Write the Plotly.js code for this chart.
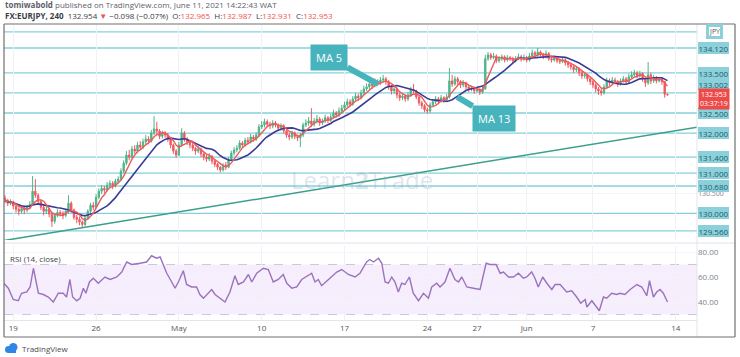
<!DOCTYPE html>
<html>
<head>
<meta charset="utf-8">
<script src="https://cdn.plot.ly/plotly-3.0.1.min.js"></script>
<style>html,body{margin:0;padding:0;background:#fff;}#chart{width:740px;height:357px;}</style>
</head>
<body>
<div id="chart"></div>
<script>
// ---- OHLC data (4H bars, EURJPY, Apr 16 - Jun 11 2021) ----
const open = [
130.38,130.32,130.25,130.28,130.18,130.10,130.05,130.12,130.08,130.15,
130.22,130.55,130.45,130.30,130.15,130.05,130.10,129.98,129.80,129.95,
130.02,130.00,129.95,130.05,130.25,130.08,129.90,129.85,129.78,129.72,
129.88,130.05,130.20,130.15,130.40,130.55,130.62,130.58,130.70,130.75,
130.68,130.80,130.85,131.05,131.25,131.45,131.40,131.60,131.55,131.70,
131.65,131.78,131.85,131.80,132.00,132.10,132.05,131.92,132.00,131.95,
131.85,131.70,131.55,131.45,131.70,132.00,131.85,131.78,131.70,131.62,
131.55,131.60,131.48,131.40,131.35,131.42,131.30,131.22,131.15,131.08,
131.20,131.15,131.35,131.50,131.58,131.62,131.75,131.70,131.82,131.78,
131.90,131.85,131.95,132.15,132.20,132.28,132.22,132.18,132.25,132.20,
132.12,132.18,132.05,131.95,131.90,132.00,131.92,131.88,131.95,132.20,
132.25,132.30,132.22,132.30,132.35,132.25,132.30,132.38,132.32,132.40,
132.50,132.45,132.55,132.62,132.70,132.78,132.72,132.85,132.92,132.88,
133.00,133.10,133.15,133.22,133.18,133.28,133.25,133.32,133.35,133.28,
133.15,133.05,133.10,132.95,132.88,132.92,132.85,132.95,133.08,133.05,
132.90,132.75,132.68,132.58,132.55,132.70,132.78,132.85,132.80,132.88,
132.82,132.90,133.30,133.22,133.35,133.28,133.20,133.25,133.15,133.10,
133.12,133.05,133.08,133.02,133.10,133.85,133.95,133.88,133.92,133.80,
133.85,133.90,133.82,133.88,133.85,133.80,133.86,133.90,133.84,133.88,
133.82,133.92,134.00,133.95,134.02,133.96,133.90,133.98,133.85,133.82,
133.88,133.80,133.78,133.82,133.75,133.70,133.65,133.58,133.60,133.50,
133.42,133.45,133.35,133.28,133.20,133.10,133.05,133.00,133.15,133.30,
133.25,133.32,133.28,133.22,133.30,133.35,133.28,133.40,133.45,133.50,
133.42,133.48,133.35,133.25,133.45,133.30,133.38,133.30,133.35,133.28,
132.965];
const high = [
130.45,130.36,130.35,130.31,130.22,130.15,130.18,130.16,130.20,130.30,
130.93,130.85,130.50,130.34,130.20,130.18,130.14,130.02,130.00,130.10,
130.08,130.05,130.12,130.45,130.30,130.12,129.96,129.92,129.82,129.94,
130.10,130.26,130.28,130.48,130.62,130.70,130.68,130.78,130.82,130.80,
130.86,130.92,131.12,131.32,131.55,131.58,131.68,131.70,131.78,131.80,
131.86,131.95,131.92,132.08,132.42,132.28,132.10,132.06,132.05,132.00,
131.90,131.74,131.60,131.78,132.12,132.05,131.90,131.82,131.75,131.66,
131.68,131.64,131.52,131.46,131.50,131.45,131.34,131.26,131.18,131.25,
131.28,131.40,131.56,131.65,131.70,131.82,131.80,131.88,131.90,131.98,
131.95,132.02,132.22,132.30,132.36,132.34,132.28,132.32,132.30,132.24,
132.24,132.22,132.08,132.00,132.06,132.04,131.96,132.00,132.26,132.34,
132.40,132.62,132.38,132.45,132.40,132.36,132.46,132.42,132.48,132.58,
132.55,132.64,132.70,132.78,132.86,132.84,132.92,133.00,132.98,133.08,
133.18,133.24,133.30,133.28,133.36,133.34,133.40,133.45,133.40,133.32,
133.20,133.16,133.14,133.00,133.00,132.96,133.02,133.15,133.22,133.08,
132.94,132.80,132.72,132.64,132.76,132.85,132.92,132.90,132.95,132.92,
132.98,133.62,133.45,133.42,133.40,133.32,133.32,133.28,133.20,133.18,
133.16,133.14,133.12,133.16,133.95,134.02,134.00,134.00,133.96,133.92,
133.96,133.94,133.94,133.92,133.90,133.92,133.98,133.95,133.96,133.92,
134.00,134.08,134.05,134.12,134.06,134.00,134.06,134.02,133.90,133.94,
133.92,133.86,133.88,133.86,133.80,133.75,133.70,133.66,133.64,133.55,
133.52,133.48,133.40,133.32,133.24,133.15,133.12,133.22,133.38,133.36,
133.40,133.38,133.32,133.36,133.42,133.40,133.48,133.54,133.58,133.55,
133.55,133.52,133.38,133.77,133.50,133.45,133.42,133.40,133.38,133.30,
132.987];
const low = [
130.25,130.18,130.20,130.10,130.02,129.95,130.00,129.98,130.03,130.10,
130.18,130.38,130.22,130.08,129.95,129.98,129.90,129.66,129.74,129.90,
129.92,129.85,129.90,130.00,130.02,129.84,129.75,129.70,129.66,129.68,
129.84,130.00,130.08,130.12,130.35,130.48,130.50,130.54,130.64,130.60,
130.64,130.74,130.80,131.00,131.20,131.32,131.35,131.48,131.50,131.58,
131.60,131.72,131.72,131.76,131.95,131.98,131.85,131.86,131.88,131.78,
131.62,131.48,131.38,131.42,131.66,131.78,131.70,131.62,131.55,131.46,
131.50,131.40,131.32,131.28,131.30,131.22,131.15,131.08,131.02,131.04,
131.08,131.12,131.30,131.44,131.52,131.58,131.64,131.66,131.72,131.74,
131.78,131.80,131.90,132.10,132.14,132.15,132.10,132.12,132.14,132.05,
132.06,131.98,131.88,131.82,131.85,131.85,131.80,131.65,131.90,132.15,
132.18,132.15,132.16,132.24,132.18,132.20,132.25,132.24,132.28,132.36,
132.38,132.40,132.50,132.56,132.64,132.65,132.68,132.80,132.80,132.84,
132.95,133.05,133.10,133.10,133.14,133.18,133.20,133.26,133.20,133.08,
132.96,132.98,132.86,132.80,132.82,132.78,132.80,132.90,132.98,132.84,
132.68,132.60,132.52,132.48,132.50,132.65,132.72,132.72,132.76,132.75,
132.78,132.86,133.15,133.18,133.20,133.12,133.14,133.08,133.02,133.04,
132.98,133.00,132.95,132.98,133.08,133.80,133.82,133.84,133.74,133.75,
133.80,133.76,133.78,133.80,133.74,133.76,133.82,133.78,133.80,133.76,
133.78,133.88,133.88,133.90,133.90,133.84,133.86,133.80,133.76,133.78,
133.74,133.72,133.74,133.68,133.62,133.58,133.50,133.52,133.42,133.35,
133.36,133.28,133.20,133.12,133.02,132.95,132.93,132.96,133.10,133.18,
133.20,133.22,133.15,133.18,133.26,133.22,133.24,133.36,133.40,133.36,
133.38,133.28,133.15,133.20,133.22,133.25,133.24,133.26,133.20,132.88,
132.931];
const close = [
130.32,130.25,130.28,130.18,130.10,130.05,130.12,130.08,130.15,130.22,
130.55,130.45,130.30,130.15,130.05,130.10,129.98,129.80,129.95,130.02,
130.00,129.95,130.05,130.25,130.08,129.90,129.85,129.78,129.72,129.88,
130.05,130.20,130.15,130.40,130.55,130.62,130.58,130.70,130.75,130.68,
130.80,130.85,131.05,131.25,131.45,131.40,131.60,131.55,131.70,131.65,
131.78,131.85,131.80,132.00,132.10,132.05,131.92,132.00,131.95,131.85,
131.70,131.55,131.45,131.70,132.00,131.85,131.78,131.70,131.62,131.55,
131.60,131.48,131.40,131.35,131.42,131.30,131.22,131.15,131.08,131.20,
131.15,131.35,131.50,131.58,131.62,131.75,131.70,131.82,131.78,131.90,
131.85,131.95,132.15,132.20,132.28,132.22,132.18,132.25,132.20,132.12,
132.18,132.05,131.95,131.90,132.00,131.92,131.88,131.95,132.20,132.25,
132.30,132.22,132.30,132.35,132.25,132.30,132.38,132.32,132.40,132.50,
132.45,132.55,132.62,132.70,132.78,132.72,132.85,132.92,132.88,133.00,
133.10,133.15,133.22,133.18,133.28,133.25,133.32,133.35,133.28,133.15,
133.05,133.10,132.95,132.88,132.92,132.85,132.95,133.08,133.05,132.90,
132.75,132.68,132.58,132.55,132.70,132.78,132.85,132.80,132.88,132.82,
132.90,133.30,133.22,133.35,133.28,133.20,133.25,133.15,133.10,133.12,
133.05,133.08,133.02,133.10,133.85,133.95,133.88,133.92,133.80,133.85,
133.90,133.82,133.88,133.85,133.80,133.86,133.90,133.84,133.88,133.82,
133.92,134.00,133.95,134.02,133.96,133.90,133.98,133.85,133.82,133.88,
133.80,133.78,133.82,133.75,133.70,133.65,133.58,133.60,133.50,133.42,
133.45,133.35,133.28,133.20,133.10,133.05,133.00,133.15,133.30,133.25,
133.32,133.28,133.22,133.30,133.35,133.28,133.40,133.45,133.50,133.42,
133.48,133.35,133.25,133.45,133.30,133.38,133.30,133.35,133.28,132.965,
132.953];

// ---- RSI (14, close): bar position / value ----
const rsiBar = [
-0.4,1.2,3.0,4.8,6.0,7.9,9.1,10.3,12.1,13.9,
15.7,17.5,19.3,21.1,22.3,23.5,24.5,26.0,27.2,28.4,
29.3,30.6,32.0,33.8,36.2,38.1,40.5,42.3,44.1,45.9,
48.9,51.3,53.1,54.9,56.2,57.4,58.6,60.4,61.6,62.8,
64.6,65.8,67.6,69.4,70.6,71.9,73.1,74.9,76.1,77.9,
79.7,81.5,83.3,84.5,86.4,88.2,89.4,91.2,93.6,95.4,
97.2,99.0,100.8,102.1,103.9,105.7,107.5,111.1,112.3,113.5,
114.7,117.2,120.2,122.0,124.4,126.8,128.6,131.0,132.2,
133.5,135.3,136.5,137.7,138.9,140.1,141.3,142.5,143.7,144.9,
146.5,147.9,149.8,151.6,153.4,154.6,156.4,157.6,159.4,161.2,
163.0,164.3,165.5,167.3,169.7,172.1,174.3,175.7,177.9,179.4,
180.6,182.4,184.2,186.0,187.8,189.0,190.8,192.0,193.2,194.8,
196.3,198.1,199.3,201.1,203.5,205.3,207.1,208.6,210.2,210.8,
212.6,214.4,215.3,216.8,218.0,219.8,221.6,222.8,224.6,226.5,
228.9,230.7,232.5,233.5,234.9,236.1,237.3,238.5,240.0];
const rsiVal = [
55,51,42,41,47,48,52,67,47,46,
44,40,47,47,44,58,44,41,43,51,
47,56,59,55,60,58,60,64,72,70,
71,72,77,75,76,70,63,56,51,56,
65,54,52,52,46,43,46,50,46,43,
40,48,61,54,56,62,56,63,67,66,
56,58,62,55,51,52,58,63,56,58,
53,58,64,66,62,60,63,72,74,
72,75,71,56,55,60,56,48,55,54,
60,47,41,47,43,52,55,52,56,67,
58,56,60,52,51,50,71,70,70,63,
64,60,60,63,59,60,64,59,52,60,
55,50,54,54,48,49,44,39,42,36,
41,35,33,44,43,47,46,47,46,50,
54,52,45,57,44,48,50,47,40];

// ---- axis ticks ----
const tickBars = [3,33,63,93,123,153,171,189,213,243];
const tickLabels = ['19','26','May','10','17','24','27','Jun','7','14'];
const priceTicks = [130.5];
const rsiTicks = [40,60,80];

// ---- drawings ----
const levels = [134.52,134.12,133.5,133.002,132.5,132.0,131.4,131.0,130.68,130.0,129.56];
const levelLabels = ['JPY','134.120','133.500','133.002','132.500','132.000','131.400','131.000','130.680','130.000','129.560'];
const trendBar = [-0.4, 251];
const trendPrice = [129.32, 132.15];
const lastPrice = 132.953;
const countdown = '03:37:19';
const maFast = 5, maSlow = 13;

// ---- build ----
const bars = close.map((_, i) => i);
function sma(arr, n) {
  return arr.map((_, i) => {
    const s = Math.max(0, i - n + 1);
    let t = 0;
    for (let k = s; k <= i; k++) t += arr[k];
    return t / (i - s + 1);
  });
}
const ma5 = sma(close, maFast);
const ma13 = sma(close, maSlow);

const PXL = 4, PXR = 697, PYT = 24, PYB = 320;
const px = v => (v - PXL) / (PXR - PXL);
const py = v => (PYB - v) / (PYB - PYT);

const traces = [
  {type:'scatter', mode:'lines', x:trendBar, y:trendPrice, xaxis:'x', yaxis:'y',
   line:{color:'#3c9f8c', width:1.5}, hoverinfo:'skip'},
  {type:'candlestick', x:bars, open:open, high:high, low:low, close:close, xaxis:'x', yaxis:'y',
   increasing:{line:{color:'#4fb48a', width:1}, fillcolor:'#4fb48a'},
   decreasing:{line:{color:'#ee5a60', width:1}, fillcolor:'#ee5a60'},
   whiskerwidth:0, hoverinfo:'skip'},
  {type:'scatter', mode:'lines', x:bars, y:ma13, xaxis:'x', yaxis:'y',
   line:{color:'#3b3a97', width:1.6}, hoverinfo:'skip'},
  {type:'scatter', mode:'lines', x:bars, y:ma5, xaxis:'x', yaxis:'y',
   line:{color:'#ee5a5a', width:1.4}, hoverinfo:'skip'},
  {type:'scatter', mode:'lines', x:rsiBar, y:rsiVal, xaxis:'x', yaxis:'y2',
   line:{color:'#9a72bd', width:1.4}, hoverinfo:'skip'}
];

const shapes = [];
levels.forEach(l => shapes.push({type:'line', xref:'paper', yref:'y', x0:0, x1:1, y0:l, y1:l,
  line:{color:'#86d0da', width:1.3}, layer:'below'}));
shapes.push({type:'rect', xref:'paper', yref:'y2', x0:0, x1:1, y0:30, y1:70,
  fillcolor:'rgba(186,120,230,0.13)', line:{width:0}, layer:'below'});
[30,70].forEach(v => shapes.push({type:'line', xref:'paper', yref:'y2', x0:0, x1:1, y0:v, y1:v,
  line:{color:'rgba(150,140,170,0.45)', width:1, dash:'dash'}, layer:'below'}));
// pane separator, price scale separator, outer frame
shapes.push({type:'line', xref:'paper', yref:'paper', x0:0, x1:px(735), y0:py(243), y1:py(243), line:{color:'#dfe2e8', width:1}});
shapes.push({type:'line', xref:'paper', yref:'paper', x0:1, x1:1, y0:py(337), y1:1, line:{color:'#e3e5ea', width:1}});
const frame = {color:'#707070', width:1.2};
shapes.push({type:'line', xref:'paper', yref:'paper', x0:0, x1:0, y0:py(337), y1:1, line:frame});
shapes.push({type:'line', xref:'paper', yref:'paper', x0:px(735), x1:px(735), y0:py(337), y1:1, line:frame});
shapes.push({type:'line', xref:'paper', yref:'paper', x0:0, x1:px(735), y0:1, y1:1, line:frame});
shapes.push({type:'line', xref:'paper', yref:'paper', x0:0, x1:px(735), y0:py(337), y1:py(337), line:frame});
// TradingView cloud logo
const logo = {xref:'paper', yref:'paper', fillcolor:'#2f86e6', line:{width:0}};
shapes.push(Object.assign({type:'circle', x0:px(5), x1:px(12), y0:py(353), y1:py(346)}, logo));
shapes.push(Object.assign({type:'circle', x0:px(9), x1:px(17.5), y0:py(351.5), y1:py(343)}, logo));
shapes.push(Object.assign({type:'rect', x0:px(8.5), x1:px(16), y0:py(353), y1:py(348)}, logo));

const red = '#ef5350';
const annotations = [
  {xref:'paper', yref:'paper', x:px(3), y:py(5), xanchor:'left', yanchor:'middle', showarrow:false,
   text:'<b>tomiwabold</b> published on TradingView.com, June 11, 2021 14:22:43 WAT',
   font:{size:8, color:'#5d606b'}},
  {xref:'paper', yref:'paper', x:px(3), y:py(16), xanchor:'left', yanchor:'middle', showarrow:false,
   text:'<b>FX:EURJPY, 240</b>  132.954 <span style="color:'+red+'">▼</span> −0.098 (−0.07%)  O:<span style="color:'+red+'">132.965</span>  H:<span style="color:'+red+'">132.987</span>  L:<span style="color:'+red+'">132.931</span>  C:<span style="color:'+red+'">132.953</span>',
   font:{size:8, color:'#3a3d46'}},
  {xref:'paper', yref:'paper', x:px(8), y:py(258), xanchor:'left', yanchor:'middle', showarrow:false,
   text:'RSI (14, close)', font:{size:8, color:'#444'}},
  {xref:'x', yref:'y', x:129.3, y:130.83, showarrow:false, text:'Learn<b>2</b>Trade',
   font:{size:24, color:'rgba(140,165,190,0.28)'}},
  {xref:'x', yref:'y', x:135.1, y:133.22, ax:-49, ay:-27, showarrow:true, arrowhead:0, arrowwidth:6,
   arrowcolor:'#47b3bd', standoff:0, text:'MA 5', font:{size:11, color:'#fff'}, bgcolor:'#47b3bd', borderpad:5},
  {xref:'x', yref:'y', x:163.8, y:132.90, ax:37, ay:22, showarrow:true, arrowhead:0, arrowwidth:6,
   arrowcolor:'#47b3bd', standoff:0, text:'MA 13', font:{size:11, color:'#fff'}, bgcolor:'#47b3bd', borderpad:5},
  {xref:'paper', yref:'paper', x:px(20), y:py(348), xanchor:'left', yanchor:'middle', showarrow:false, text:'TradingView',
   font:{size:8, color:'#4a4d56'}}
];
levels.forEach((l, i) => {
  const isCcy = levelLabels[i] === 'JPY';
  annotations.push({xref:'paper', yref:'y', x:px(isCcy ? 714 : 698), y:l,
    xanchor:isCcy ? 'center' : 'left', yanchor:'middle',
    yshift: levelLabels[i] === '133.002' ? 9 : 0,
    showarrow:false, text:levelLabels[i],
    font:{size:isCcy ? 7 : 8, color:isCcy ? '#555' : '#225e69'},
    bgcolor:isCcy ? '#ffffff' : '#8bd0da',
    bordercolor:'#8bd0da', borderwidth:isCcy ? 3 : 0, borderpad:isCcy ? 0 : 0.5});
});
annotations.push({xref:'paper', yref:'y', x:px(698), y:lastPrice, xanchor:'left', yanchor:'middle', yshift:-4,
  showarrow:false, text:lastPrice.toFixed(3)+'<br>'+countdown, font:{size:7, color:'#fff'}, bgcolor:'#ef4a4a', borderpad:1});

const layout = {
  width:740, height:357,
  margin:{l:PXL, r:740-PXR, t:PYT, b:357-PYB, pad:0},
  paper_bgcolor:'#ffffff', plot_bgcolor:'#ffffff',
  showlegend:false, hovermode:false,
  font:{family:'Open Sans, Arial, sans-serif', size:8, color:'#555'},
  xaxis:{range:[-0.36,250.7], anchor:'y2', tickvals:tickBars, ticktext:tickLabels,
    showgrid:true, gridcolor:'#eff1f5', zeroline:false, showline:true, linecolor:'#e3e5ea',
    ticks:'', tickfont:{size:8, color:'#555'}, rangeslider:{visible:false}, fixedrange:true},
  yaxis:{domain:[0.27,1], range:[129.332,134.718], side:'right', anchor:'x',
    tickvals:priceTicks, ticktext:priceTicks.map(v => v.toFixed(3)),
    showgrid:true, gridcolor:'#f2f4f8', zeroline:false, ticks:'', tickfont:{size:7, color:'#80838c'}},
  yaxis2:{domain:[0,0.25], range:[25.6,84.8], side:'right', anchor:'x',
    tickvals:rsiTicks, ticktext:rsiTicks.map(v => v.toFixed(2)),
    showgrid:true, gridcolor:'#f2f4f8', zeroline:false, ticks:'', tickfont:{size:8, color:'#80838c'}},
  shapes:shapes,
  annotations:annotations
};

Plotly.newPlot('chart', traces, layout, {staticPlot:true, displayModeBar:false});
</script>
</body>
</html>
